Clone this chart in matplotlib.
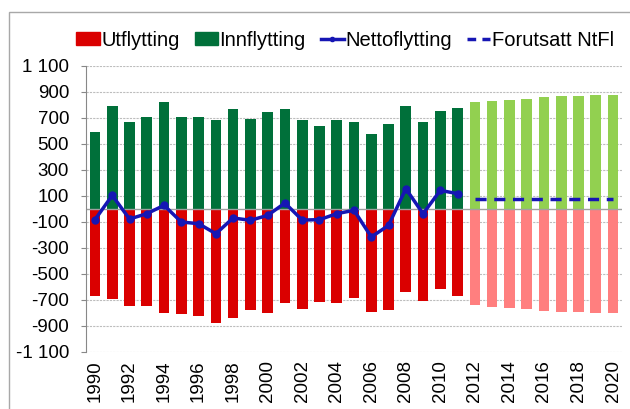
import matplotlib
matplotlib.use("Agg")
import matplotlib.pyplot as plt
from matplotlib.patches import Rectangle, Patch
from matplotlib.lines import Line2D
from matplotlib.ticker import FuncFormatter

plt.rcParams['font.family'] = ['Liberation Sans', 'DejaVu Sans']

years_hist = list(range(1990, 2012))
innflytting = [589, 794, 668, 707, 820, 707, 707, 686, 771, 692, 748, 771,
               681, 638, 681, 668, 579, 653, 794, 668, 756, 779]
utflytting = [-666, -692, -749, -749, -800, -805, -820, -876, -838, -774, -800, -725,
              -769, -715, -720, -687, -795, -779, -641, -705, -615, -666]
nettoflytting = [-82, 105, -77, -36, 28, -100, -113, -190, -69, -87, -49, 46,
                 -85, -82, -36, -10, -215, -126, 156, -36, 143, 118]

years_fc = list(range(2012, 2021))
innflytting_fc = [820, 830, 840, 850, 861, 866, 871, 876, 876]
utflytting_fc = [-741, -751, -761, -771, -782, -789, -795, -800, -800]
forutsatt = [77, 77, 77, 77, 77, 77, 77, 77, 77]

yticks = list(range(-1100, 1101, 200))
xticks = list(range(1990, 2021, 2))

c_red = '#DA0000'
c_green = '#00703A'
c_lgreen = '#92D050'
c_lred = '#FF7F7F'
c_blue = '#1616B4'

fig = plt.figure(figsize=(6.3, 4.09), dpi=100)
ax = fig.add_axes([86/630, 1-352/409, (622-86)/630, (352-66)/409])

w = 0.62
ax.bar(years_hist, innflytting, width=w, color=c_green, zorder=2)
ax.bar(years_hist, utflytting, width=w, color=c_red, zorder=2)
ax.bar(years_fc, innflytting_fc, width=w, color=c_lgreen, zorder=2)
ax.bar(years_fc, utflytting_fc, width=w, color=c_lred, zorder=2)
ax.axhline(0, color='#a0a0a0', lw=1.0, zorder=2.5)
ax.plot(years_hist, nettoflytting, color=c_blue, lw=2.5, marker='o', ms=5, zorder=3)
ax.plot(years_fc, forutsatt, color=c_blue, lw=2.5, dashes=(3.2, 2.2), zorder=3)

ax.set_ylim(-1100, 1100)
ax.set_xlim(1989.48, 2020.52)
ax.set_yticks(yticks)

def fmt(v, pos):
    v = int(round(v))
    s = f"{abs(v):,}".replace(",", " ")
    return ("-" if v < 0 else "") + s
ax.yaxis.set_major_formatter(FuncFormatter(fmt))
ax.set_xticks(xticks)
ax.set_xticklabels([str(y) for y in xticks], rotation=90)
ax.tick_params(axis='x', length=0, labelsize=13.5, pad=6)
ax.tick_params(axis='y', length=3.6, width=0.8, color='#888888', labelsize=13.5, pad=8.5)
ax.grid(axis='y', color='#bdbdbd', ls=(0, (2, 1)), lw=0.8, zorder=0)
for s in ['top', 'right', 'bottom']:
    ax.spines[s].set_visible(False)
ax.spines['left'].set_color('#888888')
ax.spines['left'].set_linewidth(0.8)

handles = [Patch(color=c_red), Patch(color=c_green),
           Line2D([], [], color=c_blue, lw=2.5, marker='o', ms=3),
           Line2D([], [], color=c_blue, lw=2.5, dashes=(2.5, 1.8))]
labels = ['Utflytting', 'Innflytting', 'Nettoflytting', 'Forutsatt NtFl']
fig.legend(handles, labels, ncol=4, loc='center', bbox_to_anchor=(0.548, 1-40/409),
           frameon=False, fontsize=14.5, handlelength=1.15, handleheight=0.65,
           handletextpad=0.08, columnspacing=0.75, borderaxespad=0, borderpad=0)

fig.patches.append(Rectangle((9/630, -0.1), 1.2, 1-12/409 + 0.1, transform=fig.transFigure,
                             fill=False, edgecolor='#a8a8a8', lw=1.0, clip_on=False))

fig.savefig('out.png', dpi=100)
